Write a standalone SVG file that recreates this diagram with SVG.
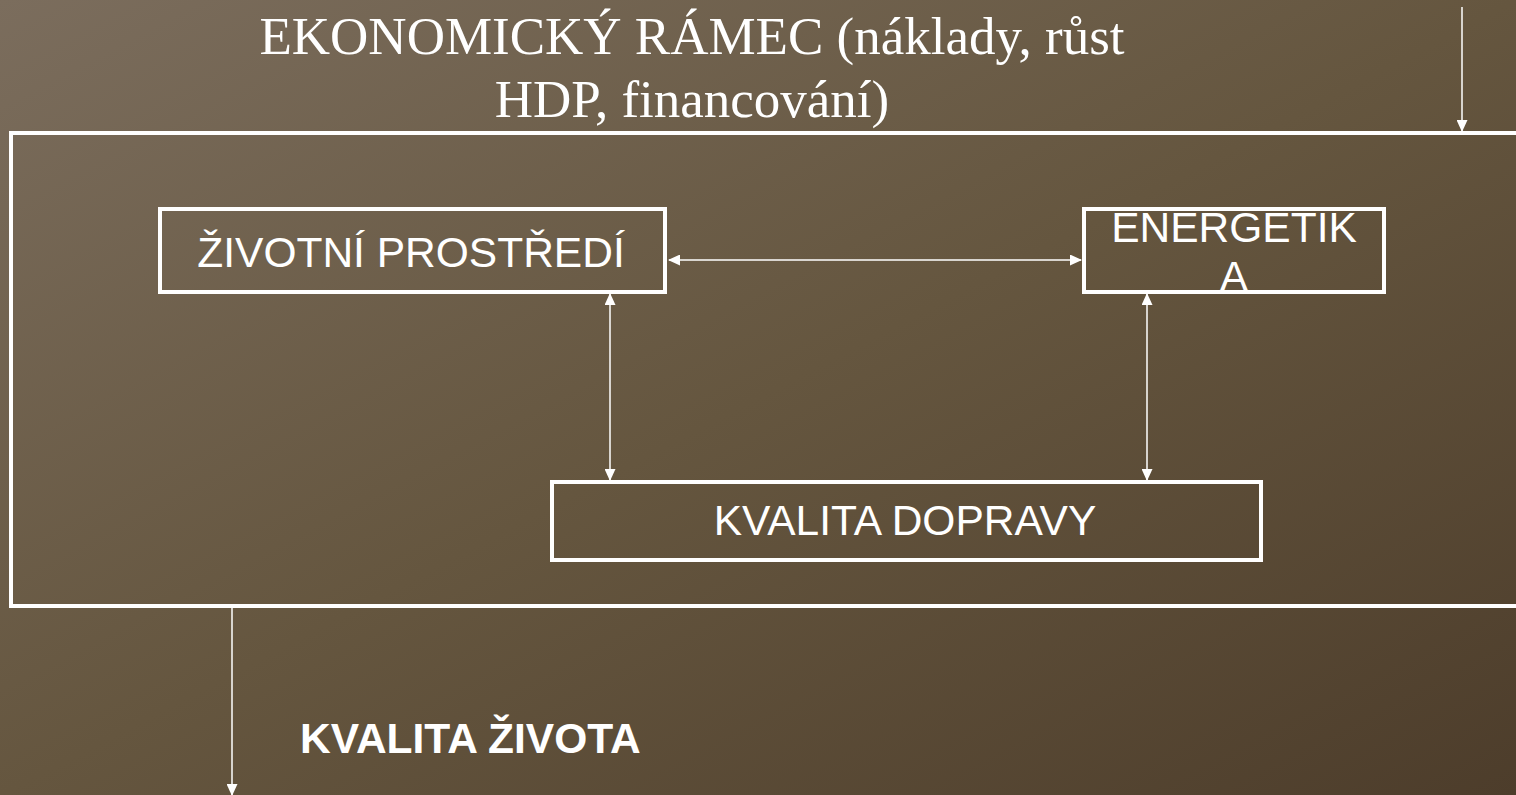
<svg xmlns="http://www.w3.org/2000/svg" width="1516" height="795" viewBox="0 0 1516 795">
<defs>
<linearGradient id="bg" x1="0" y1="0" x2="1" y2="1">
<stop offset="0" stop-color="#7b6d5d"/>
<stop offset="0.5" stop-color="#65563f"/>
<stop offset="1" stop-color="#4d3d2b"/>
</linearGradient>
<marker id="ah" markerWidth="12" markerHeight="11" refX="11" refY="5.5" orient="auto-start-reverse" markerUnits="userSpaceOnUse">
<path d="M0,0 L12,5.5 L0,11 Z" fill="#fff"/>
</marker>
<style>
.box{fill:none;stroke:#fff;stroke-width:4}
.conn{stroke:#fff;stroke-width:1.5;fill:none}
.t{font-family:"Liberation Sans",Arial,sans-serif;fill:#fff;font-size:42.5px;text-anchor:middle}
.title{font-family:"Liberation Serif","Times New Roman",serif;fill:#fff;font-size:53px;text-anchor:middle}
</style>
</defs>
<rect width="1516" height="795" fill="url(#bg)"/>
<g id="title">
<text class="title" x="692" y="54">EKONOMICKÝ RÁMEC (náklady, růst</text>
<text class="title" x="692" y="117">HDP, financování)</text>
</g>
<g id="frame"><rect class="box" x="11" y="133" width="1520" height="473" stroke-width="3.5"/></g>
<g id="zivotni"><rect class="box" x="160" y="209" width="505" height="83"/><text class="t" x="411" y="267">ŽIVOTNÍ PROSTŘEDÍ</text></g>
<g id="energetika"><rect class="box" x="1084" y="209" width="300" height="83"/><text class="t" x="1234" y="242">ENERGETIK</text><text class="t" x="1234" y="291">A</text></g>
<g id="doprava"><rect class="box" x="552" y="482" width="709" height="78"/><text class="t" x="905" y="535">KVALITA DOPRAVY</text></g>
<g id="zivot"><text class="t" x="300" y="753" style="text-anchor:start;font-weight:bold">KVALITA ŽIVOTA</text></g>
<g id="connectors">
<line class="conn" x1="669" y1="260" x2="1081" y2="260" marker-start="url(#ah)" marker-end="url(#ah)"/>
<line class="conn" x1="610" y1="294" x2="610" y2="480" marker-start="url(#ah)" marker-end="url(#ah)"/>
<line class="conn" x1="1147" y1="294" x2="1147" y2="480" marker-start="url(#ah)" marker-end="url(#ah)"/>
<line class="conn" x1="1462" y1="7" x2="1462" y2="131" marker-end="url(#ah)"/>
<line class="conn" x1="232" y1="608" x2="232" y2="795" marker-end="url(#ah)"/>
</g>
</svg>
